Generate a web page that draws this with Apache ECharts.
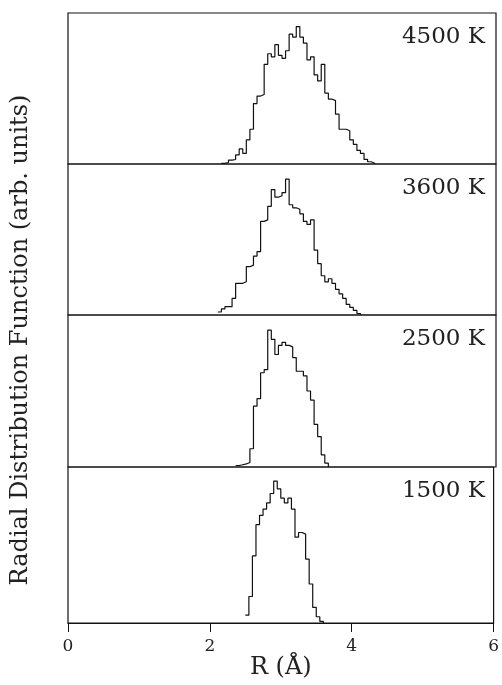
<!DOCTYPE html>
<html>
<head>
<meta charset="utf-8">
<script src="https://cdn.jsdelivr.net/npm/echarts@6/dist/echarts.min.js"></script>
<style>
  html, body { margin: 0; padding: 0; background: #fff; }
  #chart { width: 502px; height: 685px; }
</style>
</head>
<body>
<div id="chart"></div>
<script>
// panel labels, top to bottom
var temps = ['4500 K', '3600 K', '2500 K', '1500 K'];
var xTicks = [0, 2, 4, 6];

// histogram bin left edges (last entry closes the histogram) and heights (arb.)
var r4500 = [2.15, 2.20, 2.25, 2.30, 2.35, 2.40, 2.45, 2.50, 2.55, 2.60, 2.65, 2.70, 2.75, 2.80, 2.85, 2.90,
  2.95, 3.00, 3.05, 3.10, 3.15, 3.20, 3.25, 3.30, 3.35, 3.40, 3.45, 3.50, 3.55, 3.60, 3.65, 3.70,
  3.75, 3.80, 3.85, 3.90, 3.95, 4.00, 4.05, 4.10, 4.15, 4.20, 4.25, 4.30];
var h4500 = [0.004, 0.01, 0.026, 0.03, 0.06, 0.10, 0.07, 0.16, 0.23, 0.40, 0.45, 0.46, 0.66, 0.73, 0.71, 0.79,
  0.72, 0.70, 0.75, 0.86, 0.84, 0.91, 0.84, 0.80, 0.69, 0.71, 0.59, 0.55, 0.66, 0.47, 0.43, 0.42,
  0.33, 0.23, 0.23, 0.22, 0.16, 0.13, 0.09, 0.07, 0.03, 0.015, 0.005, 0];

var r3600 = [2.10, 2.15, 2.20, 2.25, 2.30, 2.35, 2.40, 2.45, 2.50, 2.55, 2.60, 2.65, 2.70, 2.75, 2.80, 2.85,
  2.90, 2.95, 3.00, 3.05, 3.10, 3.15, 3.20, 3.25, 3.30, 3.35, 3.40, 3.45, 3.50, 3.55, 3.60, 3.65,
  3.70, 3.75, 3.80, 3.85, 3.90, 3.95, 4.00, 4.05, 4.10];
var h3600 = [0.02, 0.04, 0.055, 0.055, 0.11, 0.21, 0.21, 0.22, 0.32, 0.33, 0.39, 0.42, 0.62, 0.63, 0.72, 0.83,
  0.78, 0.79, 0.81, 0.90, 0.73, 0.71, 0.70, 0.67, 0.62, 0.60, 0.63, 0.43, 0.34, 0.26, 0.22, 0.24,
  0.21, 0.17, 0.14, 0.11, 0.07, 0.05, 0.03, 0.01, 0];

var r2500 = [2.35, 2.40, 2.45, 2.50, 2.55, 2.60, 2.65, 2.70, 2.75, 2.80, 2.85, 2.90, 2.95, 3.00, 3.05, 3.10,
  3.15, 3.20, 3.25, 3.30, 3.35, 3.40, 3.45, 3.50, 3.55, 3.60, 3.65];
var h2500 = [0.01, 0.015, 0.02, 0.03, 0.12, 0.40, 0.45, 0.62, 0.64, 0.90, 0.84, 0.74, 0.80, 0.82, 0.80, 0.79,
  0.72, 0.63, 0.63, 0.60, 0.50, 0.44, 0.28, 0.20, 0.08, 0.025, 0];

var r1500 = [2.50, 2.55, 2.60, 2.65, 2.70, 2.75, 2.80, 2.85, 2.90, 2.95, 3.00, 3.05, 3.10, 3.15, 3.20, 3.25,
  3.30, 3.35, 3.40, 3.45, 3.50, 3.55, 3.60];
var h1500 = [0.05, 0.17, 0.43, 0.63, 0.69, 0.73, 0.77, 0.83, 0.91, 0.86, 0.80, 0.77, 0.80, 0.73, 0.55, 0.58,
  0.57, 0.41, 0.25, 0.10, 0.04, 0.01, 0];

var edges = [r4500, r3600, r2500, r1500];
var heights = [h4500, h3600, h2500, h1500];

var panelTop = [13, 164, 315, 467];
var panelH = [151, 151, 152, 156];
var serif = 'DejaVu Serif';

var chart = echarts.init(document.getElementById('chart'));

var grids = [], xAxes = [], yAxes = [], series = [], texts = [];
for (var i = 0; i < 4; i++) {
  var last = i === 3;
  grids.push({
    left: 68, right: 6, top: panelTop[i], height: panelH[i],
    show: true, borderColor: '#111', borderWidth: 1.2, backgroundColor: 'transparent'
  });
  xAxes.push({
    gridIndex: i, type: 'value', min: 0, max: 6, interval: 2,
    axisLine: { show: last, onZero: false, lineStyle: { color: '#111', width: 1.2 } },
    axisTick: { show: last, length: 9, lineStyle: { color: '#111' } },
    axisLabel: {
      show: last, color: '#222', fontFamily: serif, fontSize: 17, margin: 15,
      formatter: function (v) { return xTicks.indexOf(v) >= 0 ? String(v) : ''; }
    },
    splitLine: { show: false },
    name: last ? 'R (\u00c5)' : '', nameLocation: 'middle', nameGap: 33,
    nameTextStyle: { color: '#222', fontFamily: serif, fontSize: 24 }
  });
  yAxes.push({
    gridIndex: i, type: 'value', min: 0, max: 1,
    axisLine: { show: false }, axisTick: { show: false }, axisLabel: { show: false },
    splitLine: { show: false }
  });
  var data = edges[i].map(function (r, k) { return [r, heights[i][k]]; });
  series.push({
    type: 'line', xAxisIndex: i, yAxisIndex: i, step: 'end', data: data,
    symbol: 'none', silent: true,
    lineStyle: { color: '#111', width: 1.2 }
  });
  texts.push({
    type: 'text', right: 17, top: panelTop[i] + 13,
    style: { text: temps[i], font: '23px "' + serif + '"', fill: '#222' }
  });
}

texts.push({
  type: 'text', x: 21, y: 340, rotation: Math.PI / 2,
  style: {
    text: 'Radial Distribution Function (arb. units)', font: '24px "' + serif + '"',
    fill: '#222', textAlign: 'center', textVerticalAlign: 'middle'
  }
});

chart.setOption({
  animation: false,
  backgroundColor: '#fff',
  grid: grids,
  xAxis: xAxes,
  yAxis: yAxes,
  series: series,
  graphic: texts
});
</script>
</body>
</html>
